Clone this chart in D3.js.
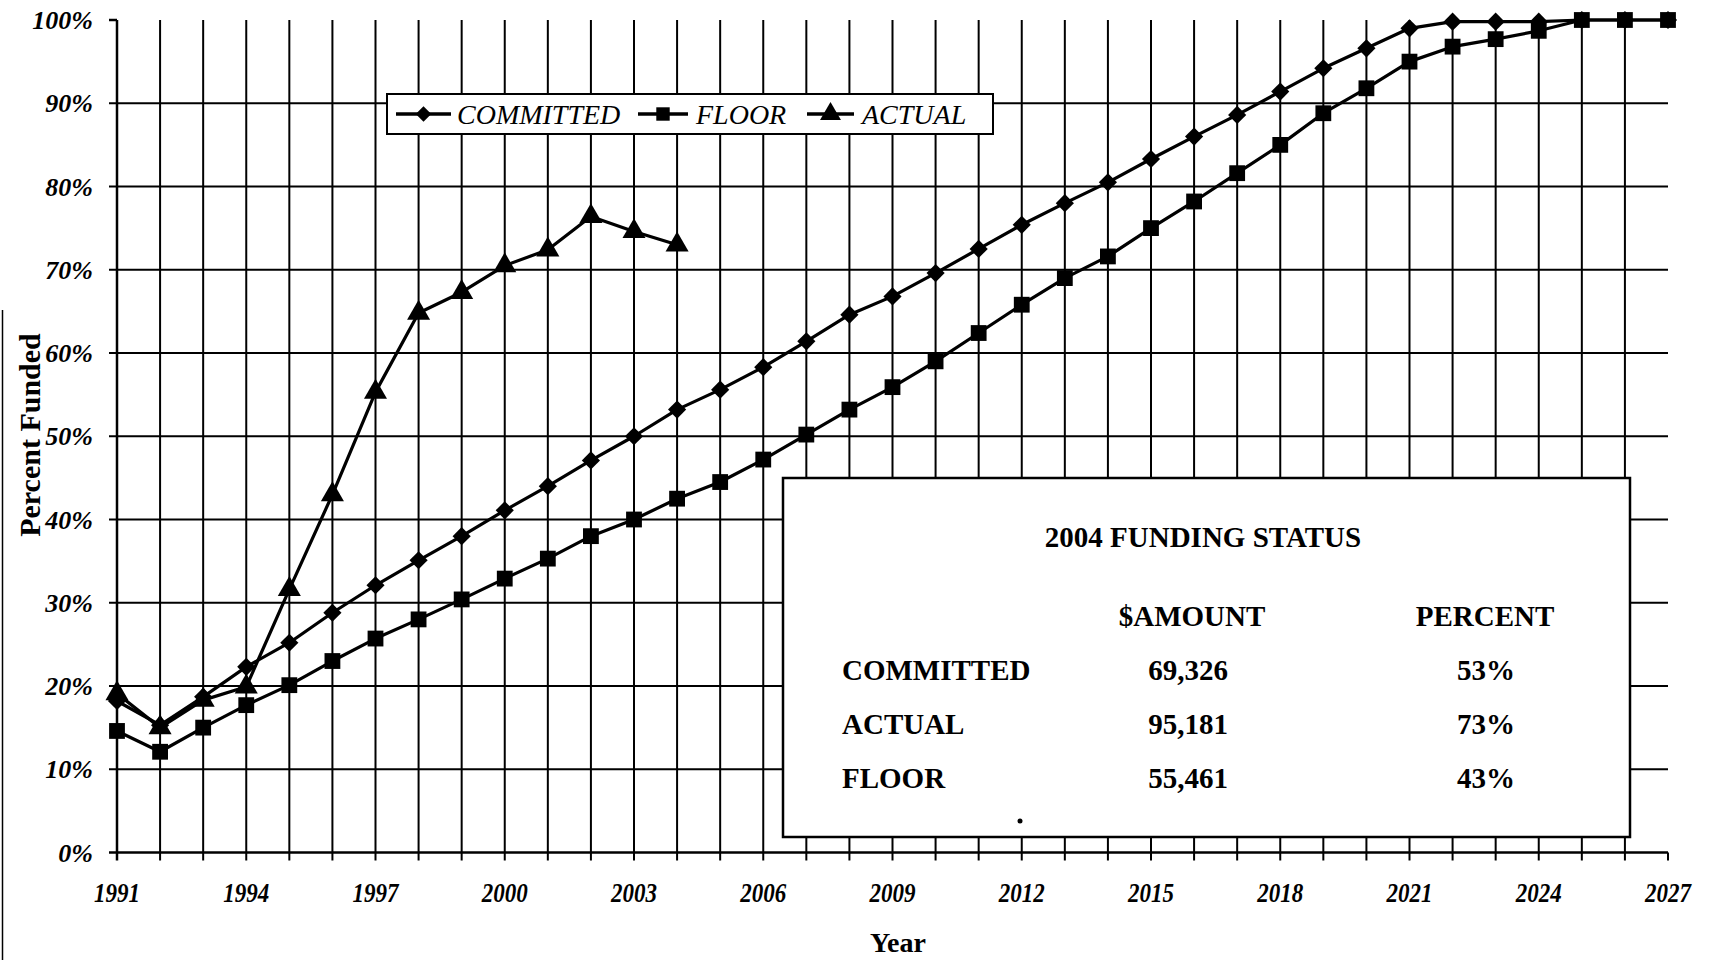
<!DOCTYPE html>
<html>
<head>
<meta charset="utf-8">
<script src="https://cdn.jsdelivr.net/npm/d3@7"></script>
<style>
  html, body { margin: 0; padding: 0; background: #fff; }
  svg { display: block; }
</style>
</head>
<body>
<svg id="chart" width="1711" height="960"></svg>
<script>
// ---- data -------------------------------------------------------------
const years = [1991, 1992, 1993, 1994, 1995, 1996, 1997, 1998, 1999, 2000,
               2001, 2002, 2003, 2004, 2005, 2006, 2007, 2008, 2009, 2010,
               2011, 2012, 2013, 2014, 2015, 2016, 2017, 2018, 2019, 2020,
               2021, 2022, 2023, 2024, 2025, 2026, 2027];

const committed = [18.2, 15.3, 18.7, 22.3, 25.2, 28.8, 32.1, 35.1, 38.0, 41.1,
                   44.0, 47.1, 50.0, 53.2, 55.6, 58.3, 61.4, 64.6, 66.8, 69.6,
                   72.5, 75.4, 78.0, 80.5, 83.3, 86.0, 88.6, 91.4, 94.2, 96.6,
                   99.0, 99.8, 99.8, 99.8, 100, 100, 100];

const floor = [14.6, 12.1, 15.0, 17.7, 20.1, 23.0, 25.7, 28.0, 30.4, 32.9,
               35.3, 38.0, 40.0, 42.5, 44.5, 47.2, 50.2, 53.2, 55.9, 59.0,
               62.4, 65.8, 69.0, 71.6, 75.0, 78.2, 81.6, 85.0, 88.8, 91.8,
               95.0, 96.8, 97.7, 98.7, 100, 100, 100];

const actualYears = [1991, 1992, 1993, 1994, 1995, 1996, 1997, 1998, 1999, 2000,
                     2001, 2002, 2003, 2004];
const actual = [19.1, 15.0, 18.3, 19.9, 31.6, 43.0, 55.3, 64.8, 67.3, 70.5,
                72.4, 76.4, 74.6, 73.0];

const xTickLabels = [1991, 1994, 1997, 2000, 2003, 2006, 2009, 2012, 2015, 2018, 2021, 2024, 2027];
const yTickValues = [0, 10, 20, 30, 40, 50, 60, 70, 80, 90, 100];

const legendNames = ["COMMITTED", "FLOOR", "ACTUAL"];

const statusTitle = "2004 FUNDING STATUS";
const statusHeaders = ["$AMOUNT", "PERCENT"];
const statusRows = ["COMMITTED", "ACTUAL", "FLOOR"];
const statusAmounts = ["69,326", "95,181", "55,461"];
const statusPercents = ["53%", "73%", "43%"];

// ---- setup ------------------------------------------------------------
const svg = d3.select("#chart");
const SERIF = "'Liberation Serif', 'Times New Roman', serif";

const x = d3.scaleLinear().domain([1991, 2027]).range([117, 1668]);
const y = d3.scaleLinear().domain([0, 100]).range([852.5, 20]);

const tickLen = 8;
const x0 = x.range()[0], x1 = x.range()[1];
const yBottom = y(0), yTop = y(100);

// left page edge rule
svg.append("line")
  .attr("x1", 2.5).attr("x2", 2.5).attr("y1", 310).attr("y2", 960)
  .attr("stroke", "#000").attr("stroke-width", 1.5);

// ---- grid -------------------------------------------------------------
const grid = svg.append("g").attr("stroke", "#000");

// horizontal gridlines (10%..90%) with tick stubs left of the axis
grid.selectAll("line.h")
  .data(yTickValues.filter(v => v > 0 && v < 100))
  .join("line")
  .attr("x1", x0 - tickLen).attr("x2", x1)
  .attr("y1", d => y(d)).attr("y2", d => y(d))
  .attr("stroke-width", 2);

// vertical gridlines, one per year, with tick stubs under the axis
grid.selectAll("line.v")
  .data(years.filter(d => d > 1991 && d < 2027))
  .join("line")
  .attr("x1", d => x(d)).attr("x2", d => x(d))
  .attr("y1", yTop).attr("y2", yBottom + tickLen)
  .attr("stroke-width", 2);

// axes
grid.append("line") // y axis
  .attr("x1", x0).attr("x2", x0).attr("y1", yTop).attr("y2", yBottom + tickLen)
  .attr("stroke-width", 2.5);
grid.append("line") // 100% tick
  .attr("x1", x0 - tickLen).attr("x2", x0).attr("y1", yTop).attr("y2", yTop)
  .attr("stroke-width", 2.5);
grid.append("line") // x axis
  .attr("x1", x0 - tickLen).attr("x2", x1).attr("y1", yBottom).attr("y2", yBottom)
  .attr("stroke-width", 2.5);
grid.append("line") // last year tick
  .attr("x1", x1).attr("x2", x1).attr("y1", yBottom).attr("y2", yBottom + tickLen)
  .attr("stroke-width", 2);

// ---- tick labels ------------------------------------------------------
svg.append("g")
  .selectAll("text")
  .data(yTickValues)
  .join("text")
  .attr("x", 93)
  .attr("y", d => y(d) + 9)
  .attr("text-anchor", "end")
  .attr("font-family", SERIF)
  .attr("font-weight", "bold")
  .attr("font-style", "italic")
  .attr("font-size", 26)
  .text(d => d + "%");

svg.append("g")
  .selectAll("text")
  .data(xTickLabels)
  .join("text")
  .attr("x", d => x(d))
  .attr("y", 902)
  .attr("text-anchor", "middle")
  .attr("font-family", SERIF)
  .attr("font-weight", "bold")
  .attr("font-style", "italic")
  .attr("font-size", 27)
  .attr("textLength", 46)
  .attr("lengthAdjust", "spacingAndGlyphs")
  .text(d => d);

// axis titles
svg.append("text")
  .attr("x", 898).attr("y", 952)
  .attr("text-anchor", "middle")
  .attr("font-family", SERIF).attr("font-weight", "bold").attr("font-size", 28)
  .text("Year");

svg.append("text")
  .attr("transform", "translate(40,435) rotate(-90)")
  .attr("text-anchor", "middle")
  .attr("font-family", SERIF).attr("font-weight", "bold").attr("font-size", 30)
  .text("Percent Funded");

// ---- legend -----------------------------------------------------------
const legend = svg.append("g");
legend.append("rect")
  .attr("x", 387).attr("y", 94).attr("width", 606).attr("height", 40)
  .attr("fill", "#fff").attr("stroke", "#000").attr("stroke-width", 2);

const legendLayout = [
  { line: [396, 451], text: 457 },
  { line: [638, 688], text: 696 },
  { line: [807, 854], text: 862 }
];
const markerShapes = [
  d3.symbol().type(d3.symbolSquare).size(165),   // rotated -> diamond
  d3.symbol().type(d3.symbolSquare).size(250),
  d3.symbol().type(d3.symbolTriangle).size(230)
];
const markerRotate = [45, 0, 0];
const legendMarkerShapes = [
  d3.symbol().type(d3.symbolSquare).size(120),
  d3.symbol().type(d3.symbolSquare).size(180),
  d3.symbol().type(d3.symbolTriangle).size(190)
];
const ly = 114;
legendNames.forEach((name, i) => {
  const L = legendLayout[i];
  legend.append("line")
    .attr("x1", L.line[0]).attr("x2", L.line[1]).attr("y1", ly).attr("y2", ly)
    .attr("stroke", "#000").attr("stroke-width", 3.5);
  legend.append("path")
    .attr("d", legendMarkerShapes[i]())
    .attr("transform", `translate(${(L.line[0] + L.line[1]) / 2},${ly}) rotate(${markerRotate[i]})`)
    .attr("fill", "#000");
  legend.append("text")
    .attr("x", L.text).attr("y", ly + 10)
    .attr("font-family", SERIF).attr("font-style", "italic").attr("font-size", 28)
    .text(name);
});

// ---- funding status panel ---------------------------------------------
const panel = svg.append("g")
  .attr("font-family", SERIF).attr("font-weight", "bold").attr("font-size", 29);
panel.append("rect")
  .attr("x", 783).attr("y", 478).attr("width", 847).attr("height", 359)
  .attr("fill", "#fff").attr("stroke", "#000").attr("stroke-width", 2.5);
panel.append("text")
  .attr("x", 1203).attr("y", 547).attr("text-anchor", "middle")
  .text(statusTitle);
panel.append("text")
  .attr("x", 1192).attr("y", 626).attr("text-anchor", "middle")
  .text(statusHeaders[0]);
panel.append("text")
  .attr("x", 1485).attr("y", 626).attr("text-anchor", "middle")
  .text(statusHeaders[1]);
statusRows.forEach((name, i) => {
  const by = 680 + i * 54;
  panel.append("text").attr("x", 842).attr("y", by).text(name);
  panel.append("text").attr("x", 1188).attr("y", by).attr("text-anchor", "middle").text(statusAmounts[i]);
  panel.append("text").attr("x", 1486).attr("y", by).attr("text-anchor", "middle").text(statusPercents[i]);
});
panel.append("circle").attr("cx", 1020).attr("cy", 821).attr("r", 2.5).attr("fill", "#000");

// ---- series -----------------------------------------------------------
const series = [
  { pts: years.map((yr, i) => [yr, committed[i]]), shape: 0 },
  { pts: years.map((yr, i) => [yr, floor[i]]), shape: 1 },
  { pts: actualYears.map((yr, i) => [yr, actual[i]]), shape: 2 }
];

const lineGen = d3.line().x(d => x(d[0])).y(d => y(d[1]));
const plot = svg.append("g");

series.forEach(s => {
  plot.append("path")
    .attr("d", lineGen(s.pts))
    .attr("fill", "none")
    .attr("stroke", "#000")
    .attr("stroke-width", 3.2)
    .attr("stroke-linejoin", "round");
});
series.forEach(s => {
  plot.append("g")
    .selectAll("path")
    .data(s.pts)
    .join("path")
    .attr("d", markerShapes[s.shape]())
    .attr("transform", d => `translate(${x(d[0])},${y(d[1])}) rotate(${markerRotate[s.shape]})`)
    .attr("fill", "#000");
});
</script>
</body>
</html>
